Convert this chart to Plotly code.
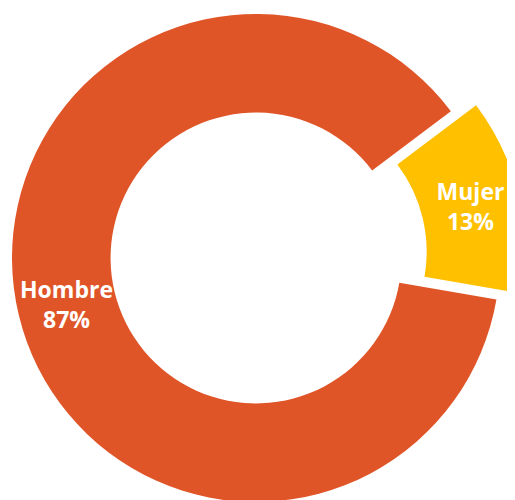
import math
import plotly.graph_objects as go

labels = ["Mujer", "Hombre"]
values = [13, 87]
colors = ["#FFC000", "#E05527"]
pulled = [True, False]

# layout geometry (pixels in figure coordinates)
W, H = 520, 500
cx, cy, R = 248, 250, 244
HOLE = 0.596
pull_px = 26
rotation = 53  # start angle of first slice, clockwise from 12 o'clock

total = sum(values)
texts = [f"<b>{l}<br>{v / total:.0%}</b>" for l, v in zip(labels, values)]

# mid angles of slices (math convention, degrees)
mids = []
start = 90 - rotation
for v in values:
    span = 360 * v / total
    mids.append(start - span / 2)
    start -= span

dx = pull_px * math.cos(math.radians(mids[0]))
dy = pull_px * math.sin(math.radians(mids[0]))


def domain(ccx, ccy):
    return dict(
        x=[max(0, (ccx - R) / W), min(1, (ccx + R) / W)],
        y=[max(0, 1 - (ccy + R) / H), min(1, 1 - (ccy - R) / H)],
    )


fig = go.Figure()
for is_pulled in (False, True):
    cols = [c if p == is_pulled else "rgba(0,0,0,0)" for c, p in zip(colors, pulled)]
    txt = [t if (p and is_pulled) else "" for t, p in zip(texts, pulled)]
    d = domain(cx + dx, cy - dy) if is_pulled else domain(cx, cy)
    fig.add_trace(go.Pie(
        labels=labels,
        values=values,
        hole=HOLE,
        sort=False,
        direction="clockwise",
        rotation=rotation,
        domain=d,
        marker=dict(colors=cols, line=dict(width=0)),
        text=txt,
        textinfo="text",
        textposition="inside",
        insidetextorientation="horizontal",
        textfont=dict(family="Open Sans, sans-serif", size=23, color="white"),
        showlegend=False,
        hoverinfo="label+percent",
    ))

# label for the large (non-pulled) slice at its mid angle on the ring
annotations = []
rmid = R * (1 + HOLE) / 2
for t, p, m in zip(texts, pulled, mids):
    if p:
        continue
    px = cx + rmid * math.cos(math.radians(m))
    py = cy - rmid * math.sin(math.radians(m))
    annotations.append(dict(
        x=px / W, y=1 - py / H, xref="paper", yref="paper",
        text=t, showarrow=False, xanchor="center", yanchor="middle",
        font=dict(family="Open Sans, sans-serif", size=23, color="white"),
    ))

fig.update_layout(
    width=W, height=H,
    margin=dict(l=0, r=0, t=0, b=0),
    paper_bgcolor="white",
    plot_bgcolor="white",
    annotations=annotations,
)
fig.write_html("out.html")
